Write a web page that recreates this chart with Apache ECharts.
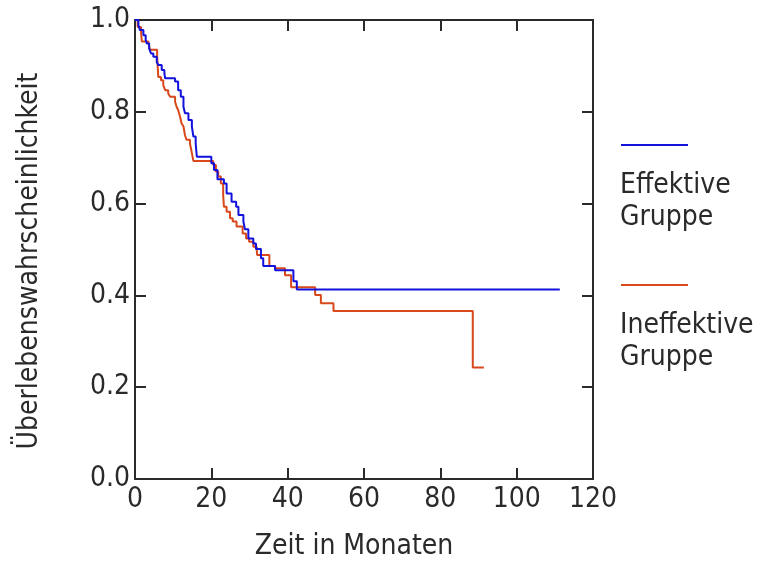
<!DOCTYPE html>
<html>
<head>
<meta charset="utf-8">
<script src="https://cdn.jsdelivr.net/npm/echarts@6/dist/echarts.min.js"></script>
<style>html,body{margin:0;padding:0;background:#fff}#c{width:760px;height:570px}</style>
</head>
<body>
<div id="c"></div>
<script>
// ---- data ----
const seriesNames = ['Effektive\nGruppe', 'Ineffektive\nGruppe'];
const xTitle = 'Zeit in Monaten';
const yTitle = 'Überlebenswahrscheinlichkeit';
const xTicks = [0, 20, 40, 60, 80, 100, 120];
const yTicks = [0.0, 0.2, 0.4, 0.6, 0.8, 1.0];

const effTime = [0, 0.9, 1.3, 2.2, 2.8, 3.1, 3.7, 4.2, 4.8, 5.7, 6.1, 7.0, 7.7, 7.9, 10.5, 11.3, 12.0, 12.7, 13.1, 14.0, 14.9, 15.3, 15.9, 16.2, 20.0, 20.7, 21.6, 23.3, 24.0, 25.3, 26.5, 27.1, 28.4, 28.8, 29.7, 31.0, 31.7, 33.0, 33.6, 36.7, 41.5, 42.4, 111.3];
const effSurv = [1.0, 0.989, 0.978, 0.967, 0.956, 0.949, 0.938, 0.927, 0.920, 0.909, 0.902, 0.891, 0.884, 0.873, 0.866, 0.847, 0.833, 0.811, 0.797, 0.782, 0.768, 0.746, 0.731, 0.702, 0.688, 0.673, 0.653, 0.644, 0.622, 0.604, 0.593, 0.575, 0.561, 0.544, 0.524, 0.513, 0.501, 0.481, 0.464, 0.455, 0.431, 0.413, 0.413];

const ineffTime = [0, 0.7, 1.6, 1.8, 3.5, 3.9, 5.8, 6.1, 6.8, 7.4, 7.9, 8.7, 9.2, 10.5, 10.9, 11.3, 11.8, 12.2, 12.7, 13.1, 13.5, 14.4, 14.9, 15.3, 20.5, 21.2, 21.8, 22.5, 23.1, 23.3, 24.0, 24.9, 25.6, 26.6, 28.2, 29.1, 29.9, 31.0, 31.9, 32.0, 35.2, 36.7, 39.3, 40.9, 47.2, 48.7, 52.0, 88.5, 91.4];
const ineffSurv = [1.0, 0.985, 0.971, 0.953, 0.949, 0.935, 0.920, 0.876, 0.869, 0.858, 0.847, 0.840, 0.833, 0.822, 0.811, 0.804, 0.789, 0.775, 0.768, 0.749, 0.739, 0.731, 0.710, 0.693, 0.684, 0.670, 0.659, 0.644, 0.619, 0.593, 0.582, 0.568, 0.561, 0.550, 0.535, 0.524, 0.517, 0.506, 0.499, 0.488, 0.464, 0.459, 0.444, 0.418, 0.401, 0.383, 0.366, 0.243, 0.243];

const colors = ['#1212dc', '#d8481b'];
// ---- chart ----
const FONT = '"DejaVu Sans Condensed", "DejaVu Sans"';
const FS = 28;
const TXT = '#2a2a2a';
const AX = '#2a2a2a';
const chart = echarts.init(document.getElementById('c'), null, {renderer: 'canvas'});

const gridL = 135, gridT = 20, gridW = 458, gridH = 459;

function axisCommon(showLabel) {
  return {
    min: 0,
    axisLine: {show: true, onZero: false, lineStyle: {color: AX, width: 2}},
    axisTick: {show: true, inside: true, length: 11, lineStyle: {color: AX, width: 2}},
    splitLine: {show: false},
    axisLabel: {show: showLabel}
  };
}

const pairs = (t, s) => t.map((v, i) => [v, s[i]]);
const fontStr = FS + 'px ' + FONT;

const option = {
  animation: false,
  backgroundColor: '#fff',
  grid: {left: gridL, top: gridT, width: gridW, height: gridH, containLabel: false},
  xAxis: [
    Object.assign(axisCommon(true), {
      type: 'value', position: 'bottom', max: xTicks[xTicks.length - 1], interval: 20,
      axisLabel: {show: true, color: TXT, fontFamily: FONT, fontSize: FS, margin: 7,
        formatter: v => String(v)}
    }),
    Object.assign(axisCommon(false), {
      type: 'value', position: 'top', max: xTicks[xTicks.length - 1], interval: 20
    })
  ],
  yAxis: [
    Object.assign(axisCommon(true), {
      type: 'value', position: 'left', max: yTicks[yTicks.length - 1], interval: 0.2,
      axisLabel: {show: true, color: TXT, fontFamily: FONT, fontSize: FS, margin: 5,
        formatter: v => v.toFixed(1)}
    }),
    Object.assign(axisCommon(false), {
      type: 'value', position: 'right', max: yTicks[yTicks.length - 1], interval: 0.2
    })
  ],
  series: [
    {
      name: seriesNames[1], type: 'line', step: 'end', showSymbol: false, symbol: 'none',
      data: pairs(ineffTime, ineffSurv), xAxisIndex: 0, yAxisIndex: 0,
      lineStyle: {color: colors[1], width: 2}, clip: false, z: 3
    },
    {
      name: seriesNames[0], type: 'line', step: 'end', showSymbol: false, symbol: 'none',
      data: pairs(effTime, effSurv), xAxisIndex: 0, yAxisIndex: 0,
      lineStyle: {color: colors[0], width: 2}, clip: false, z: 4
    }
  ],
  graphic: [
    {type: 'text', x: 30, y: 261, rotation: Math.PI / 2,
      style: {text: yTitle, font: fontStr, fill: TXT, align: 'center', verticalAlign: 'middle'}},
    {type: 'text', x: 354, y: 547,
      style: {text: xTitle, font: fontStr, fill: TXT, align: 'center', verticalAlign: 'middle'}},
    {type: 'line', shape: {x1: 621, y1: 145, x2: 688, y2: 145}, style: {stroke: colors[0], lineWidth: 2}},
    {type: 'text', x: 620, y: 170,
      style: {text: seriesNames[0], font: fontStr, fill: TXT, lineHeight: 32, align: 'left', verticalAlign: 'top'}},
    {type: 'line', shape: {x1: 621, y1: 285, x2: 688, y2: 285}, style: {stroke: colors[1], lineWidth: 2}},
    {type: 'text', x: 620, y: 310,
      style: {text: seriesNames[1], font: fontStr, fill: TXT, lineHeight: 32, align: 'left', verticalAlign: 'top'}}
  ]
};
chart.setOption(option);
</script>
</body>
</html>
